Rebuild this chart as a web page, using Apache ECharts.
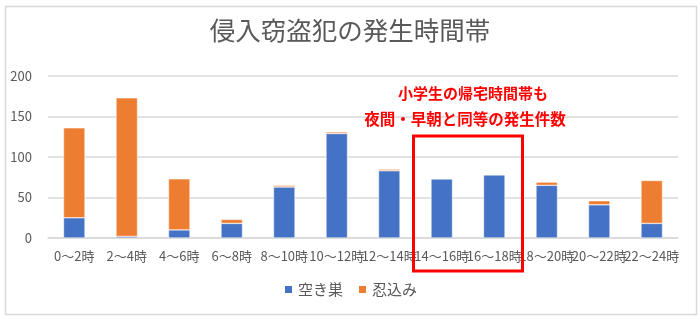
<!DOCTYPE html>
<html><head><meta charset="utf-8">
<script src="https://cdn.jsdelivr.net/npm/echarts@6/dist/echarts.min.js"></script>
<style>html,body{margin:0;padding:0;background:#fff}#c{width:700px;height:320px}</style>
</head><body><div id="c"></div>
<script>
const categories = ['0～2時','2～4時','4～6時','6～8時','8～10時','10～12時','12～14時','14～16時','16～18時','18～20時','20～22時','22～24時'];
const akisu = [25, 2, 10, 18, 63, 129, 83, 73, 78, 65, 41, 18];
const shinobikomi = [111, 171, 63, 5, 2, 2, 2, 0, 0, 4, 5, 53];
const yTicks = [0, 50, 100, 150, 200];
const seriesNames = ['空き巣', '忍込み'];
const titleText = '侵入窃盗犯の発生時間帯';
const noteLines = ['小学生の帰宅時間帯も', '夜間・早朝と同等の発生件数'];

const FONT = '"Noto Sans CJK JP", "Noto Sans", sans-serif';
const chart = echarts.init(document.getElementById('c'));
const option = {
  animation: false,
  textStyle: { fontFamily: FONT },
  title: { text: titleText, left: 'center', top: 13,
    textStyle: { fontFamily: FONT, fontSize: 25.5, fontWeight: 'normal', color: '#595959' } },
  legend: { bottom: 18, left: 'center', itemWidth: 9, itemHeight: 9, itemGap: 14, icon: 'rect',
    textStyle: { fontFamily: FONT, fontSize: 15, color: '#595959' } },
  grid: { left: 48, right: 22, top: 76, bottom: 82, containLabel: false },
  xAxis: { type: 'category', data: categories,
    axisLine: { lineStyle: { color: '#d9d9d9', width: 1.5 } }, axisTick: { show: false },
    axisLabel: { interval: 0, color: '#595959', fontSize: 13, margin: 12, fontFamily: FONT } },
  yAxis: { type: 'value', min: yTicks[0], max: yTicks[yTicks.length-1], interval: 50,
    splitLine: { lineStyle: { color: '#d9d9d9', width: 1.5 } },
    axisLabel: { color: '#595959', fontSize: 13, margin: 16, fontFamily: FONT } },
  series: [
    { name: seriesNames[0], type: 'bar', stack: 't', data: akisu, barWidth: '41%',
      itemStyle: { color: '#4472c4', borderColor: '#ffffff', borderWidth: 0.5 } },
    { name: seriesNames[1], type: 'bar', stack: 't', data: shinobikomi, barWidth: '41%',
      itemStyle: { color: '#ed7d31', borderColor: '#ffffff', borderWidth: 0.5 } }
  ]
};
chart.setOption(option);

const p1 = chart.convertToPixel({ gridIndex: 0 }, [7, 126]);
const p2 = chart.convertToPixel({ gridIndex: 0 }, [8, 0]);
const half = (p2[0] - p1[0]) / 2;
const x0 = p1[0] - half - 2, x1 = p2[0] + half + 2;
const y0 = p1[1], y1 = p2[1] + 33;
const cx = (x0 + x1) / 2;
chart.setOption({
  graphic: [
    { type: 'rect', left: 3, top: 4, shape: { x: 0, y: 0, width: 691, height: 308 },
      style: { fill: 'none', stroke: '#d9d9d9', lineWidth: 1.5 }, silent: true },
    { type: 'rect', shape: { x: x0, y: y0, width: x1 - x0, height: y1 - y0 },
      style: { fill: 'none', stroke: '#ff0000', lineWidth: 3 }, z: 10 },
    { type: 'text', x: cx + 5, y: 93, style: { text: noteLines[0], fill: '#ff0000',
      font: 'bold 15px ' + FONT, textAlign: 'center', textVerticalAlign: 'middle' }, z: 10 },
    { type: 'text', x: cx - 3, y: 119, style: { text: noteLines[1], fill: '#ff0000',
      font: 'bold 15.5px ' + FONT, textAlign: 'center', textVerticalAlign: 'middle' }, z: 10 }
  ]
});
</script></body></html>
